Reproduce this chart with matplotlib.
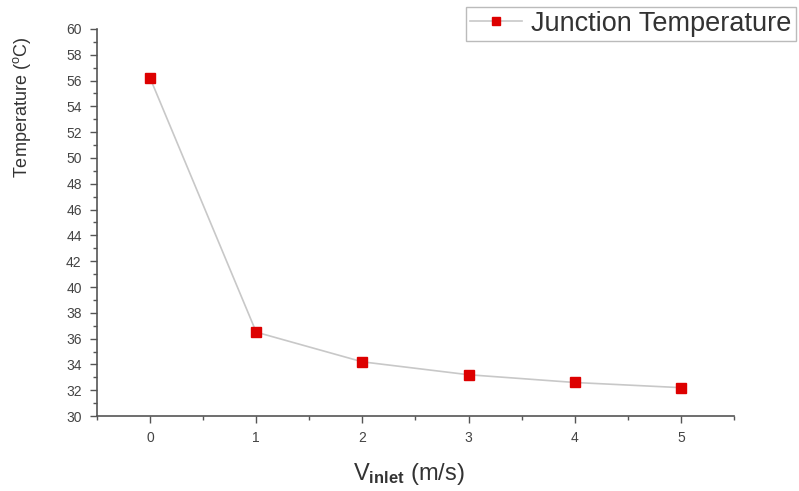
import matplotlib
matplotlib.use("Agg")
import matplotlib.pyplot as plt
from matplotlib.ticker import MultipleLocator

plt.rcParams['font.family'] = ['Liberation Sans', 'DejaVu Sans']
plt.rcParams['mathtext.fontset'] = 'custom'
plt.rcParams['mathtext.rm'] = 'Liberation Sans'
plt.rcParams['mathtext.it'] = 'Liberation Sans'
plt.rcParams['mathtext.bf'] = 'Liberation Sans:bold'

velocity = [0, 1, 2, 3, 4, 5]
junction_temp = [56.2, 36.5, 34.2, 33.2, 32.6, 32.2]
x_ticks = [0, 1, 2, 3, 4, 5]
y_ticks = list(range(30, 61, 2))

fig = plt.figure(figsize=(7.99, 4.91), dpi=100)
ax = fig.add_axes([0.1214, 0.1527, 0.7972, 0.7883])

ax.plot(velocity, junction_temp, color='#c8c8c8', lw=1.2, marker='s',
        markersize=7, markerfacecolor='#dd0000', markeredgecolor='#dd0000',
        label='Junction Temperature')

ax.set_xlim(-0.5, 5.5)
ax.set_ylim(30, 60)
ax.set_xticks(x_ticks)
ax.set_yticks(y_ticks)
ax.xaxis.set_minor_locator(MultipleLocator(0.5))
ax.yaxis.set_minor_locator(MultipleLocator(1))

for side in ('top', 'right'):
    ax.spines[side].set_visible(False)
for side in ('left', 'bottom'):
    ax.spines[side].set_color('#555555')
    ax.spines[side].set_linewidth(1.2)

ax.tick_params(which='major', direction='out', length=5, width=1, color='#555555',
               labelsize=10, labelcolor='#444444', pad=6)
ax.tick_params(which='minor', direction='out', length=3, width=1, color='#555555')

ax.set_ylabel('Temperature ($^o$C)', fontsize=13, color='#333333')
ax.yaxis.set_label_coords(-0.1, 0.798)
ax.set_xlabel(r'V$_{\mathbf{inlet}}$ (m/s)', fontsize=17, color='#333333')
ax.xaxis.set_label_coords(0.49, -0.115)

leg = ax.legend(loc='upper right', bbox_to_anchor=(1.097, 1.058), fontsize=19.5,
                frameon=True, fancybox=False, borderpad=0.15, handlelength=1.9,
                handletextpad=0.35, borderaxespad=0, markerscale=0.85)
leg.get_frame().set_edgecolor('#aaaaaa')
leg.get_frame().set_linewidth(1)
for t in leg.get_texts():
    t.set_color('#333333')

fig.savefig('out.png', dpi=100)
